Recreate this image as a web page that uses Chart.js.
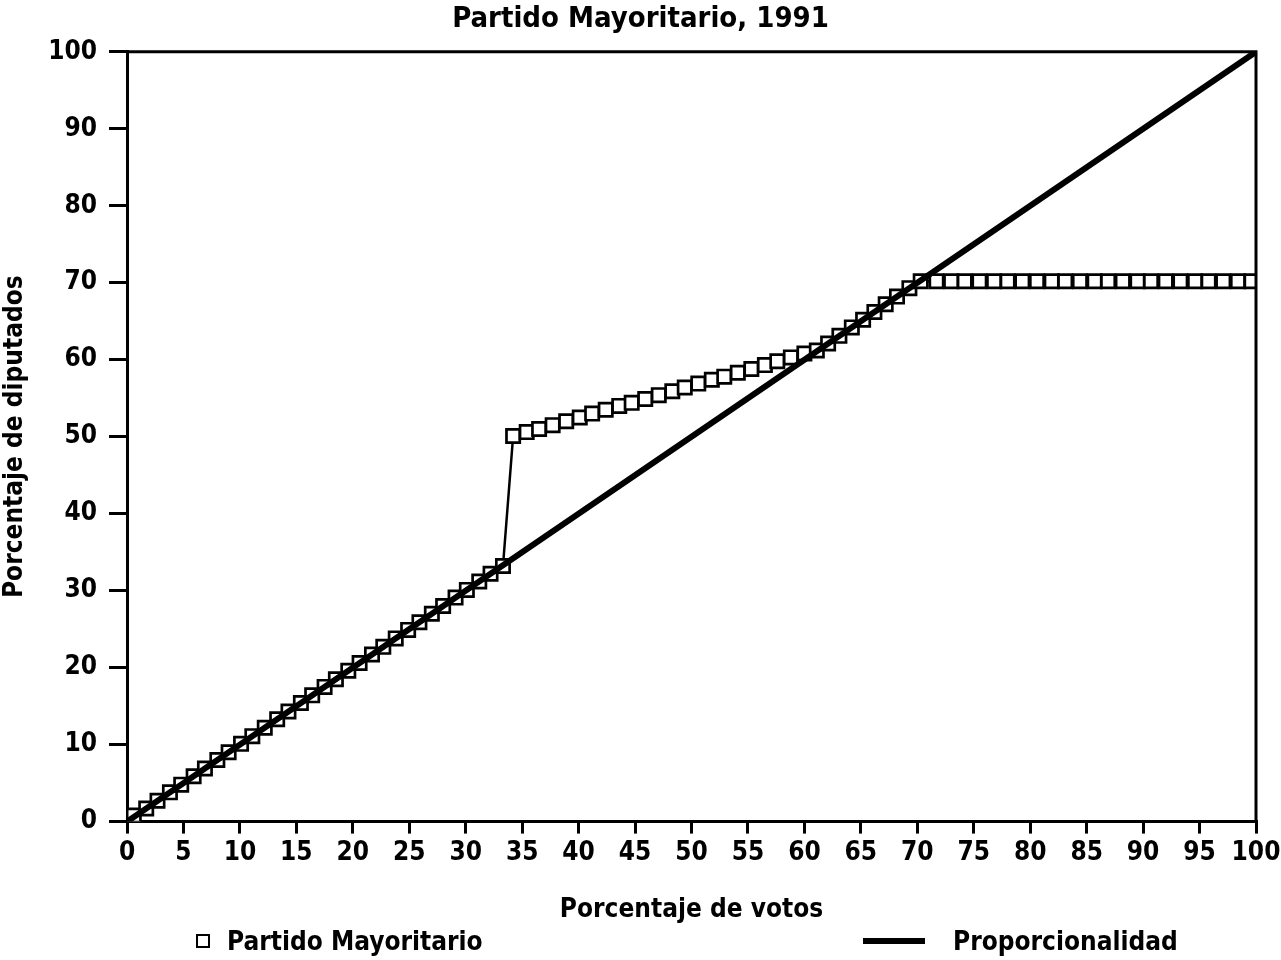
<!DOCTYPE html>
<html>
<head>
<meta charset="utf-8">
<script src="https://cdn.jsdelivr.net/npm/chart.js@4"></script>
<style>
  body { margin: 0; background: #fff; }
  #wrap { position: relative; width: 1281px; height: 960px; }
  .legend { position: absolute; top: 922px; font: bold 26px 'Liberation Sans Narrow', 'DejaVu Sans Condensed', sans-serif; color: #000; white-space: nowrap; line-height: 38px; }
  .sq { display: inline-block; width: 10px; height: 10px; border: 2.5px solid #000; vertical-align: middle; margin-right: 17px; position: relative; top: -2px; }
  .ln { display: inline-block; width: 62px; height: 6px; background: #000; vertical-align: middle; margin-right: 28px; position: relative; top: -2px; }
</style>
</head>
<body>
<div id="wrap">
  <canvas id="myChart" width="1281" height="960"></canvas>
  <div class="legend" style="left:196px"><span class="sq"></span>Partido Mayoritario</div>
  <div class="legend" style="left:863px"><span class="ln"></span>Proporcionalidad</div>
</div>
<script>
// Partido Mayoritario markers
const votosMayoritario = [
  0.6, 1.7, 2.7, 3.8, 4.8, 5.9, 6.9, 8.0, 9.0, 10.1, 11.1, 12.2, 13.3, 14.3, 15.4, 16.4,
  17.5, 18.5, 19.6, 20.6, 21.7, 22.7, 23.8, 24.9, 25.9, 27.0, 28.0, 29.1, 30.1, 31.2, 32.2, 33.3,
  34.2, 35.4, 36.5, 37.7, 38.9, 40.1, 41.2, 42.4, 43.6, 44.7, 45.9, 47.1, 48.3, 49.4, 50.6, 51.8,
  52.9, 54.1, 55.3, 56.5, 57.6, 58.8, 60.0, 61.1,
  62.1, 63.1, 64.2, 65.2, 66.2, 67.2, 68.2, 69.3, 70.3,
  71.7, 73.0, 74.2, 75.5, 76.8, 78.0, 79.3, 80.6, 81.9, 83.1, 84.4, 85.7, 86.9, 88.2, 89.5,
  90.7, 92.0, 93.3, 94.6, 95.8, 97.1, 98.4, 99.6
]
const diputadosMayoritario = [
  0.8, 1.7, 2.7, 3.8, 4.8, 5.9, 6.9, 8.0, 9.0, 10.1, 11.1, 12.2, 13.3, 14.3, 15.4, 16.4,
  17.5, 18.5, 19.6, 20.6, 21.7, 22.7, 23.8, 24.9, 25.9, 27.0, 28.0, 29.1, 30.1, 31.2, 32.2, 33.2,
  50.1, 50.6, 51.0, 51.5, 52.0, 52.5, 53.0, 53.5, 54.0, 54.4, 54.9, 55.4, 55.9, 56.4, 56.9, 57.4,
  57.8, 58.3, 58.8, 59.3, 59.8, 60.3, 60.8, 61.2,
  62.1, 63.1, 64.2, 65.2, 66.2, 67.2, 68.2, 69.3, 70.2,
  70.2, 70.2, 70.2, 70.2, 70.2, 70.2, 70.2, 70.2, 70.2, 70.2, 70.2, 70.2, 70.2, 70.2, 70.2,
  70.2, 70.2, 70.2, 70.2, 70.2, 70.2, 70.2, 70.2
]

// Proporcionalidad line
const votosProporcional = [0, 100]
const diputadosProporcional = [0, 100]

const fontFamily = "'Liberation Sans Narrow', 'DejaVu Sans Condensed', sans-serif"

const toPoints = (xs, ys) => xs.map((x, i) => ({ x, y: ys[i] }))

// frame around the plot area (top and right sides)
const frame = {
  id: 'frame',
  afterDatasetsDraw(chart) {
    const { ctx, chartArea } = chart
    ctx.save()
    ctx.strokeStyle = '#000'
    ctx.lineWidth = 3
    ctx.beginPath()
    ctx.moveTo(chartArea.left, chartArea.top)
    ctx.lineTo(chartArea.right, chartArea.top)
    ctx.lineTo(chartArea.right, chartArea.bottom)
    ctx.stroke()
    ctx.restore()
  }
}

const ctx = document.getElementById('myChart')

new Chart(ctx, {
  type: 'scatter',
  data: {
    datasets: [
      {
        label: 'Proporcionalidad',
        data: toPoints(votosProporcional, diputadosProporcional),
        showLine: true,
        borderColor: '#000',
        borderWidth: 6,
        pointRadius: 0,
        order: 0
      },
      {
        label: 'Partido Mayoritario',
        data: toPoints(votosMayoritario, diputadosMayoritario),
        showLine: true,
        borderColor: '#000',
        borderWidth: 2.5,
        pointStyle: 'rect',
        pointRadius: 9.4,
        pointBorderWidth: 2.7,
        pointBackgroundColor: '#fff',
        pointBorderColor: '#000',
        order: 1
      }
    ]
  },
  options: {
    responsive: false,
    animation: false,
    devicePixelRatio: 1,
    layout: { padding: { left: 0, right: 0, top: 0, bottom: 34 } },
    plugins: {
      legend: { display: false },
      tooltip: { enabled: false },
      title: {
        display: true,
        text: 'Partido Mayoritario, 1991',
        color: '#000',
        font: { family: fontFamily, size: 29, weight: 'bold' },
        padding: { top: 2, bottom: 15 }
      }
    },
    scales: {
      x: {
        type: 'linear',
        min: 0,
        max: 100,
        // let the last label run closer to the edge, as in the original
        afterFit: (axis) => { axis.paddingRight = 25 },
        ticks: { stepSize: 5, maxRotation: 0, autoSkip: false, color: '#000', padding: 4, font: { family: fontFamily, size: 26, weight: 'bold' } },
        grid: { drawOnChartArea: false, tickLength: 12, lineWidth: 3, color: '#000' },
        border: { color: '#000', width: 3 },
        title: { display: true, text: 'Porcentaje de votos', color: '#000', padding: { top: 22, bottom: 0 }, font: { family: fontFamily, size: 26, weight: 'bold' } }
      },
      y: {
        min: 0,
        max: 100,
        ticks: { stepSize: 10, color: '#000', padding: 12, font: { family: fontFamily, size: 26, weight: 'bold' } },
        grid: { drawOnChartArea: false, tickLength: 18, lineWidth: 3, color: '#000' },
        border: { color: '#000', width: 3 },
        title: { display: true, text: 'Porcentaje de diputados', color: '#000', padding: { top: 0, bottom: 5 }, font: { family: fontFamily, size: 26, weight: 'bold' } }
      }
    }
  },
  plugins: [frame]
})
</script>
</body>
</html>
